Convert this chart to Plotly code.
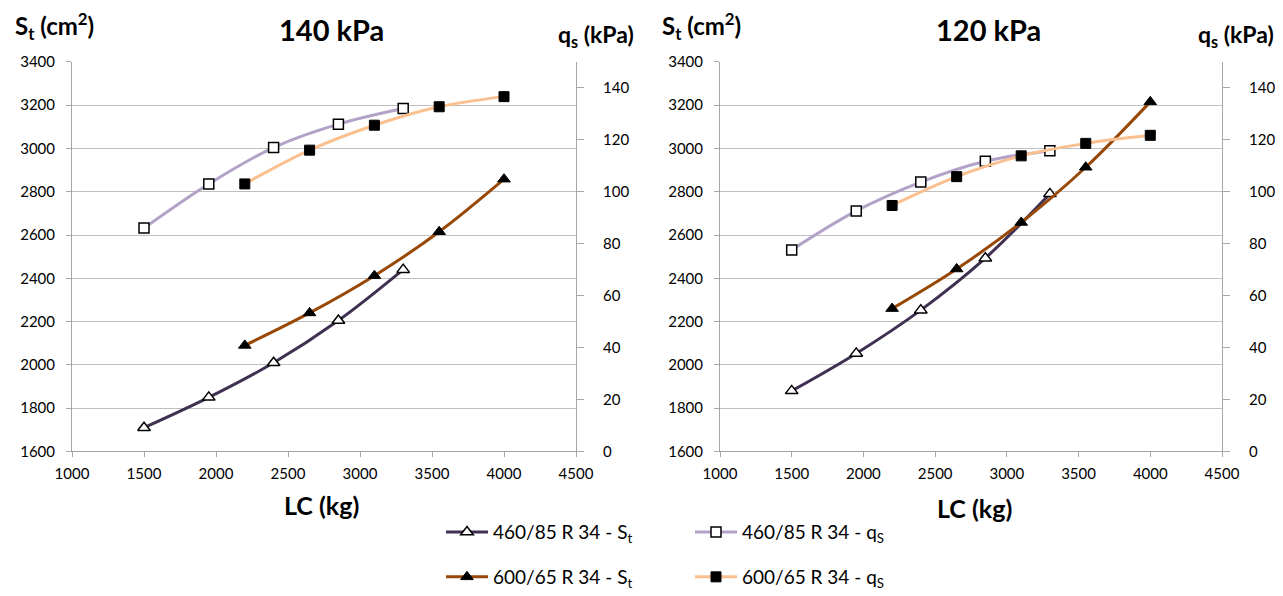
import plotly.graph_objects as go

# ---- data ----
lc_460 = [1500, 1950, 2400, 2850, 3300]
lc_600 = [2200, 2650, 3100, 3550, 4000]

# 140 kPa
st_460_140 = [1710, 1850, 2010, 2205, 2440]
st_600_140 = [2090, 2240, 2412, 2615, 2858]
qs_460_140 = [86, 103, 117, 126, 132]
qs_600_140 = [103, 116, 125.6, 132.7, 136.6]

# 120 kPa
st_460_120 = [1880, 2053, 2253, 2493, 2790]
st_600_120 = [2260, 2443, 2658, 2913, 3215]
qs_460_120 = [77.6, 92.6, 103.7, 111.7, 115.8]
qs_600_120 = [94.7, 105.8, 113.8, 118.6, 121.7]

titles = ["140 kPa", "120 kPa"]
names = ["460/85 R 34 - S<sub>t</sub>", "460/85 R 34 - q<sub>S</sub>",
         "600/65 R 34 - S<sub>t</sub>", "600/65 R 34 - q<sub>S</sub>"]

C_DARK = "#403152"
C_LPUR = "#B3A2C7"
C_BROWN = "#984807"
C_ORANGE = "#FAC090"
FONT = "Lato"

# page has an 8px body margin: figure occupies page (8,8)-(1283,596)
OFF = 8
W, H = 1283 - OFF, 596 - OFF
def fx(px):
    return (px - OFF) / W
def fy(py):
    return (596 - py) / H

fig = go.Figure()

panels = [
    dict(x="x", y="y", y2="y2", st460=st_460_140, st600=st_600_140, qs460=qs_460_140, qs600=qs_600_140, leg=True),
    dict(x="x2", y="y3", y2="y4", st460=st_460_120, st600=st_600_120, qs460=qs_460_120, qs600=qs_600_120, leg=False),
]

for p in panels:
    fig.add_trace(go.Scatter(x=lc_460, y=p["qs460"], xaxis=p["x"], yaxis=p["y2"], name=names[1],
                             mode="lines+markers", line=dict(color=C_LPUR, width=3, shape="spline"),
                             marker=dict(symbol="square", size=10, color="white", line=dict(color="black", width=1.5)),
                             showlegend=p["leg"], legend="legend", legendrank=2))
    fig.add_trace(go.Scatter(x=lc_600, y=p["qs600"], xaxis=p["x"], yaxis=p["y2"], name=names[3],
                             mode="lines+markers", line=dict(color=C_ORANGE, width=3, shape="spline"),
                             marker=dict(symbol="square", size=10, color="black", line=dict(color="black", width=1)),
                             showlegend=p["leg"], legend="legend2", legendrank=2))
    fig.add_trace(go.Scatter(x=lc_460, y=p["st460"], xaxis=p["x"], yaxis=p["y"], name=names[0],
                             mode="lines+markers", line=dict(color=C_DARK, width=3, shape="spline"),
                             marker=dict(symbol="triangle-up", size=11, color="white", line=dict(color="black", width=1.5)),
                             showlegend=p["leg"], legend="legend", legendrank=1))
    fig.add_trace(go.Scatter(x=lc_600, y=p["st600"], xaxis=p["x"], yaxis=p["y"], name=names[2],
                             mode="lines+markers", line=dict(color=C_BROWN, width=3, shape="spline"),
                             marker=dict(symbol="triangle-up", size=11, color="black", line=dict(color="black", width=1)),
                             showlegend=p["leg"], legend="legend2", legendrank=1))

ydom = [fy(453), fy(62)]
xdom1 = [fx(72), fx(576)]
xdom2 = [fx(720), fx(1222)]
tickfont = dict(family=FONT, size=15, color="black")
AX = "#A6A6A6"

xcommon = dict(range=[1000, 4500], dtick=500, showgrid=False, showline=True, linecolor=AX, linewidth=1,
               ticks="outside", ticklen=5, tickcolor=AX, tickfont=tickfont, zeroline=False, automargin=False,
               ticklabelstandoff=4)
ycommon = dict(range=[1600, 3400], dtick=200, showgrid=True, gridcolor="#BFBFBF", gridwidth=1,
               showline=True, linecolor=AX, linewidth=1, ticks="outside", ticklen=5, tickcolor=AX,
               tickfont=tickfont, zeroline=False, ticklabelstandoff=8, automargin=False)
y2common = dict(range=[0, 150], tickvals=[0, 20, 40, 60, 80, 100, 120, 140], showgrid=False,
                showline=True, linecolor=AX, linewidth=1, ticks="outside", ticklen=7, tickcolor=AX,
                tickfont=tickfont, zeroline=False, side="right", ticklabelstandoff=16, automargin=False)

fig.update_layout(
    template="none",
    width=W, height=H,
    margin=dict(l=0, r=0, t=0, b=0, pad=0),
    paper_bgcolor="white", plot_bgcolor="white",
    font=dict(family=FONT, color="black"),
    xaxis=dict(domain=xdom1, anchor="y", **xcommon),
    yaxis=dict(domain=ydom, anchor="x", **ycommon),
    yaxis2=dict(overlaying="y", anchor="x", **y2common),
    xaxis2=dict(domain=xdom2, anchor="y3", **xcommon),
    yaxis3=dict(domain=ydom, anchor="x2", **ycommon),
    yaxis4=dict(overlaying="y3", anchor="x2", **y2common),
    legend=dict(orientation="h", x=fx(441), xanchor="left", y=fy(534), yanchor="middle",
                font=dict(family=FONT, size=19, color="black"), entrywidth=192, itemwidth=42,
                bgcolor="rgba(0,0,0,0)", tracegroupgap=0),
    legend2=dict(orientation="h", x=fx(441), xanchor="left", y=fy(579), yanchor="middle",
                 font=dict(family=FONT, size=19, color="black"), entrywidth=192, itemwidth=42,
                 bgcolor="rgba(0,0,0,0)", tracegroupgap=0),
)

ann = []
def add(text, x, y, size, bold=True):
    ann.append(dict(text=f"<b>{text}</b>" if bold else text, x=fx(x), y=fy(y),
                    xref="paper", yref="paper", showarrow=False, xanchor="center", yanchor="middle",
                    font=dict(family=FONT, size=size, color="black")))

add("S<sub>t</sub> (cm<sup>2</sup>)", 54, 26, 24)
add("140 kPa", 332, 30, 29)
add("q<sub>s</sub> (kPa)", 596, 36, 23)
add("LC (kg)", 321, 507, 25)
add("S<sub>t</sub> (cm<sup>2</sup>)", 701, 26, 24)
add("120 kPa", 988, 30, 29)
add("q<sub>s</sub> (kPa)", 1236, 36, 23)
add("LC (kg)", 974, 510, 25)
fig.update_layout(annotations=ann)

fig.write_html("out.html")
